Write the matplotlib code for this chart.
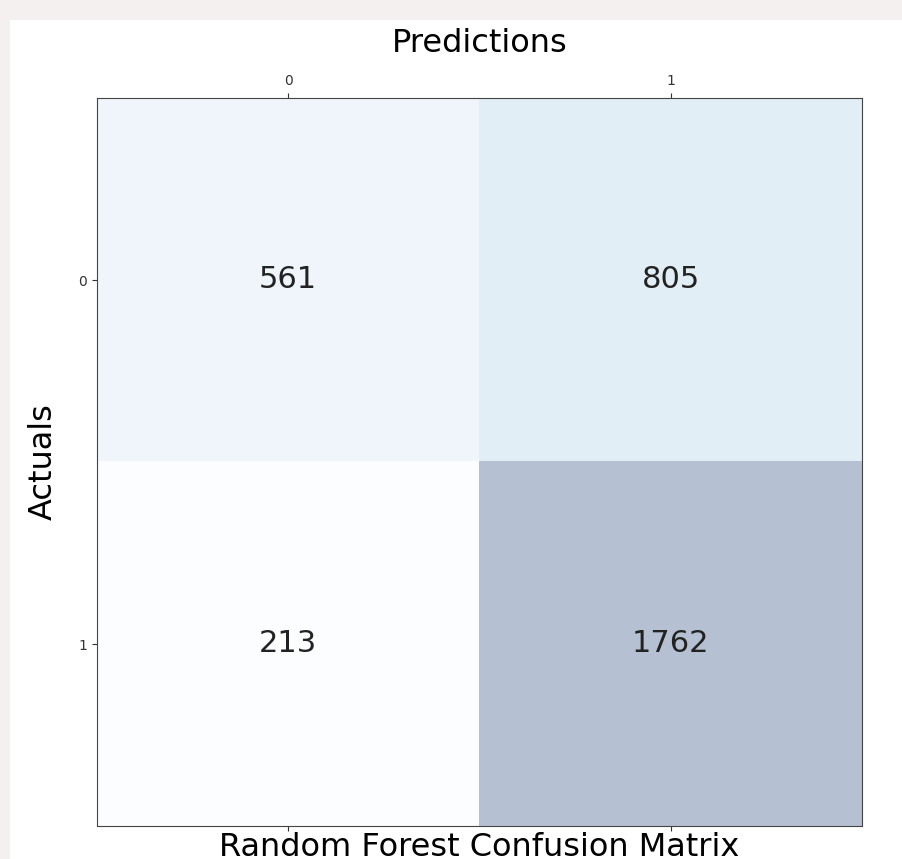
import matplotlib.pyplot as plt
from matplotlib.patches import Rectangle
import numpy as np

# confusion matrix values (rows = actuals, cols = predictions)
cm = np.array([[561, 805],
               [213, 1762]])
classes = ['0', '1']

fig = plt.figure(figsize=(9.03, 8.59), dpi=100)
fig.patch.set_facecolor('#f4f0ef')
# white panel of the screenshot
fig.patches.append(Rectangle((10/903, 0), 1, 1 - 20/859, transform=fig.transFigure,
                             facecolor='white', edgecolor='none', zorder=-10))

ax = fig.add_axes([97/903, 1 - 826/859, 765/903, 728/859])
ax.matshow(cm, cmap=plt.cm.Blues, alpha=0.3, aspect='auto')
for i in range(cm.shape[0]):
    for j in range(cm.shape[1]):
        ax.text(j, i, str(cm[i, j]), va='center', ha='center', fontsize=22, color='#222222')

ax.set_xticks(range(len(classes)))
ax.set_xticklabels(classes, fontsize=10)
ax.set_yticks(range(len(classes)))
ax.set_yticklabels(classes, fontsize=10)
ax.tick_params(colors='#333333')
for s in ax.spines.values():
    s.set_color('#444444')

ax.xaxis.set_label_position('top')
ax.set_xlabel('Predictions', fontsize=23, labelpad=16)
ax.set_ylabel('Actuals', fontsize=23, labelpad=14)
ax.set_title('Random Forest Confusion Matrix', fontsize=23, y=-0.052)

fig.savefig('out.png', dpi=100, facecolor=fig.get_facecolor())
